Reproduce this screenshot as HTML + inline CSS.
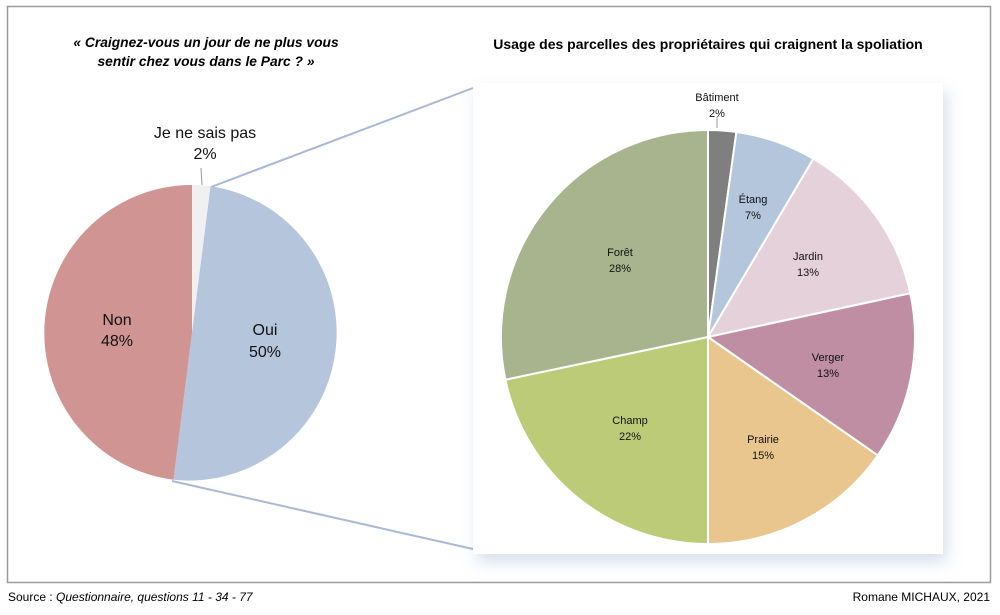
<!DOCTYPE html>
<html><head><meta charset="utf-8"><style>
body{margin:0;background:#fff;width:1000px;height:610px;overflow:hidden}
text{font-family:"Liberation Sans",sans-serif}
</style></head><body>
<svg width="1000" height="610" viewBox="0 0 1000 610">
<defs><filter id="sh" x="-10%" y="-10%" width="130%" height="130%"><feDropShadow dx="4" dy="8" stdDeviation="8" flood-color="#8fa3c8" flood-opacity="0.35"/></filter></defs>
<rect x="7.5" y="6.5" width="983" height="576" fill="#fff" stroke="#9a9a9a" stroke-width="1.5"/>
<text x="206" y="47" font-size="13.8" font-weight="bold" font-style="italic" text-anchor="middle">« Craignez-vous un jour de ne plus vous</text>
<text x="206" y="66" font-size="13.8" font-weight="bold" font-style="italic" text-anchor="middle">sentir chez vous dans le Parc ? »</text>
<text x="708" y="49" font-size="14" font-weight="bold" text-anchor="middle">Usage des parcelles des propriétaires qui craignent la spoliation</text>
<line x1="211" y1="187" x2="473" y2="88" stroke="#a8b8d6" stroke-width="2"/>
<line x1="172" y1="481" x2="473" y2="549" stroke="#a8b8d6" stroke-width="2"/>
<rect x="473" y="83" width="470" height="471" fill="#fff" filter="url(#sh)"/>
<!-- left pie -->
<path d="M192,333 L192,185 A148,148 0 0 1 210.5,186.2 Z" fill="#f0f0f0"/>
<path d="M192,333 L210.5,186.2 A148,148 0 0 1 173.5,479.8 Z" fill="#b5c5dc"/>
<path d="M192,333 L173.5,479.8 A148,148 0 0 1 192,185 Z" fill="#d09493"/>
<line x1="201" y1="168" x2="202" y2="185" stroke="#999" stroke-width="1"/>
<g font-size="16" text-anchor="middle" fill="#111">
<text x="205" y="138">Je ne sais pas</text><text x="205" y="159">2%</text>
<text x="117" y="325">Non</text><text x="117" y="346">48%</text>
<text x="265" y="335">Oui</text><text x="265" y="357">50%</text>
</g>
<!-- right pie -->
<g stroke="#fff" stroke-width="2">
<path d="M708,337 L708,130 A207,207 0 0 1 736.4,132 Z" fill="#7f7f7f"/>
<path d="M708,337 L736.4,132 A207,207 0 0 1 813.4,158.8 Z" fill="#b4c6dc"/>
<path d="M708,337 L813.4,158.8 A207,207 0 0 1 910.3,293.3 Z" fill="#e5d1da"/>
<path d="M708,337 L910.3,293.3 A207,207 0 0 1 877.8,455.4 Z" fill="#bf8ea2"/>
<path d="M708,337 L877.8,455.4 A207,207 0 0 1 708,544 Z" fill="#e9c68e"/>
<path d="M708,337 L708,544 A207,207 0 0 1 505.4,379.7 Z" fill="#bccb78"/>
<path d="M708,337 L505.4,379.7 A207,207 0 0 1 708,130 Z" fill="#a7b48e"/>
</g>
<line x1="717" y1="117" x2="717" y2="128" stroke="#999"/>
<g font-size="11" text-anchor="middle" fill="#111">
<text x="717" y="101">Bâtiment</text><text x="717" y="117">2%</text>
<text x="753" y="203">Étang</text><text x="753" y="219">7%</text>
<text x="808" y="260">Jardin</text><text x="808" y="276">13%</text>
<text x="620" y="256">Forêt</text><text x="620" y="272">28%</text>
<text x="828" y="361">Verger</text><text x="828" y="377">13%</text>
<text x="630" y="424">Champ</text><text x="630" y="440">22%</text>
<text x="763" y="443">Prairie</text><text x="763" y="459">15%</text>
</g>
<text x="8" y="601" font-size="12">Source : <tspan font-style="italic">Questionnaire, questions 11 - 34 - 77</tspan></text>
<text x="990" y="601" font-size="12" text-anchor="end">Romane MICHAUX, 2021</text>
</svg>
</body></html>
